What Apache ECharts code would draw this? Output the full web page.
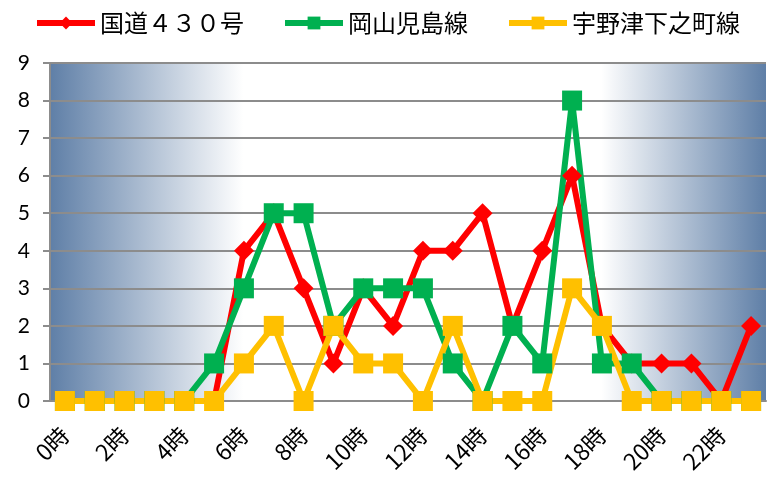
<!DOCTYPE html>
<html>
<head>
<meta charset="utf-8">
<script src="https://cdn.jsdelivr.net/npm/echarts@6/dist/echarts.min.js"></script>
<style>
  html, body { margin: 0; padding: 0; background: #fff; }
  #chart { width: 774px; height: 485px; }
</style>
</head>
<body>
<div id="chart"></div>
<script>
  // 時間帯
  var hours = ['0時', '1時', '2時', '3時', '4時', '5時', '6時', '7時', '8時', '9時', '10時', '11時',
    '12時', '13時', '14時', '15時', '16時', '17時', '18時', '19時', '20時', '21時', '22時', '23時'];
  var route430 = [0, 0, 0, 0, 0, 0, 4, 5, 3, 1, 3, 2, 4, 4, 5, 2, 4, 6, 2, 1, 1, 1, 0, 2];
  var kojimaLine = [0, 0, 0, 0, 0, 1, 3, 5, 5, 2, 3, 3, 3, 1, 0, 2, 1, 8, 1, 1, 0, 0, 0, 0];
  var unoLine = [0, 0, 0, 0, 0, 0, 1, 2, 0, 2, 1, 1, 0, 2, 0, 0, 0, 3, 2, 0, 0, 0, 0, 0];
  var yTicks = [0, 9, 1]; // min, max, interval

  var font = '"Noto Sans CJK JP", "Noto Sans", sans-serif';
  var gray = '#8c8c8c';

  function lineSeries(name, data, color, symbol, size) {
    return {
      name: name,
      type: 'line',
      data: data,
      symbol: symbol,
      symbolSize: size,
      showSymbol: true,
      showAllSymbol: true,
      clip: false,
      lineStyle: {color: color, width: 6},
      itemStyle: {color: color},
      emphasis: {disabled: true}
    };
  }

  var chart = echarts.init(document.getElementById('chart'));
  chart.setOption({
    animation: false,
    textStyle: {fontFamily: font},
    legend: {
      top: 6,
      left: 'center',
      itemWidth: 58,
      itemHeight: 16,
      itemGap: 38,
      lineStyle: {width: 6},
      textStyle: {fontSize: 24, color: '#000', fontFamily: font}
    },
    grid: {
      left: 50, right: 8, top: 63, bottom: 84,
      show: true,
      borderWidth: 0,
      backgroundColor: new echarts.graphic.LinearGradient(0, 0, 1, 0, [
        {offset: 0, color: '#5f7fa7'},
        {offset: 0.27, color: '#ffffff'},
        {offset: 0.77, color: '#ffffff'},
        {offset: 1, color: '#5f7fa7'}
      ])
    },
    xAxis: {
      type: 'category',
      data: hours,
      boundaryGap: true,
      axisLine: {lineStyle: {color: gray, width: 2}},
      axisTick: {interval: 1, length: 7, lineStyle: {color: gray, width: 2}},
      axisLabel: {interval: 1, rotate: 45, fontSize: 23, color: '#000', margin: 30, fontFamily: font}
    },
    yAxis: {
      type: 'value',
      min: yTicks[0], max: yTicks[1], interval: yTicks[2],
      axisLine: {show: true, lineStyle: {color: gray, width: 2}},
      axisTick: {show: true, length: 7, lineStyle: {color: gray, width: 2}},
      axisLabel: {fontSize: 21, color: '#000', margin: 20, fontFamily: 'Lato, "Open Sans", sans-serif'},
      splitLine: {lineStyle: {color: gray, width: 2}}
    },
    series: [
      lineSeries('国道４３０号', route430, '#ff0000', 'diamond', 20),
      lineSeries('岡山児島線', kojimaLine, '#00b050', 'rect', 20),
      lineSeries('宇野津下之町線', unoLine, '#ffc000', 'rect', 20)
    ]
  });
</script>
</body>
</html>
